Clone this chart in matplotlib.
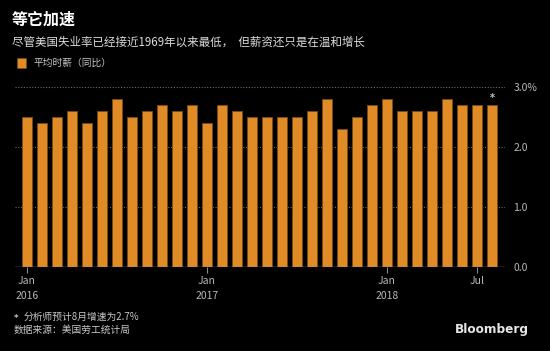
import matplotlib
matplotlib.use("Agg")
import matplotlib.pyplot as plt
from matplotlib.patches import Rectangle

plt.rcParams['font.family'] = ['Noto Sans CJK SC', 'DejaVu Sans']

# Data: average hourly earnings YoY %, Jan 2016 - Aug 2018
months = ["2016-01", "2016-02", "2016-03", "2016-04", "2016-05", "2016-06",
          "2016-07", "2016-08", "2016-09", "2016-10", "2016-11", "2016-12",
          "2017-01", "2017-02", "2017-03", "2017-04", "2017-05", "2017-06",
          "2017-07", "2017-08", "2017-09", "2017-10", "2017-11", "2017-12",
          "2018-01", "2018-02", "2018-03", "2018-04", "2018-05", "2018-06",
          "2018-07", "2018-08"]
values = [2.5, 2.4, 2.5, 2.6, 2.4, 2.6, 2.8, 2.5, 2.6, 2.7, 2.6, 2.7,
          2.4, 2.7, 2.6, 2.5, 2.5, 2.5, 2.5, 2.6, 2.8, 2.3, 2.5, 2.7,
          2.8, 2.6, 2.6, 2.6, 2.8, 2.7, 2.7, 2.7]
xtick_months = ["2016-01", "2017-01", "2018-01", "2018-07"]
xtick_labels = ["Jan\n2016", "Jan\n2017", "Jan\n2018", "Jul"]
yticks = [0.0, 1.0, 2.0, 3.0]
ytick_labels = ["0.0", "1.0", "2.0", "3.0%"]
forecast_month = "2018-08"

BG = "#000000"
BAR = "#E08B26"
EDGE = "#7A4A12"
GRID = "#6a6a6a"
TXT = "#b8b8b8"

W, H = 550, 351
fig = plt.figure(figsize=(W / 100, H / 100), dpi=100, facecolor=BG)

left, right = 15, 505
bottom_px, top_px = 266.7, 83.7
ax = fig.add_axes([left / W, (H - bottom_px) / H, (right - left) / W, (bottom_px - top_px) / H])
ax.set_facecolor(BG)

x = list(range(len(values)))
ax.bar(x, values, width=0.68, color=BAR, edgecolor=EDGE, linewidth=0.7, zorder=3)

ax.set_xlim(-0.8, len(values) - 1 + 0.87)
ax.set_ylim(0, 3.05)

for y in yticks[1:]:
    ax.axhline(y, color=GRID, linestyle=(0, (1, 1.5)), linewidth=0.8, zorder=1)
ax.axhline(0, color="#8a8a8a", linewidth=1.0, zorder=4)

for s in ax.spines.values():
    s.set_visible(False)

ax.yaxis.tick_right()
ax.set_yticks(yticks)
ax.set_yticklabels(ytick_labels)
ax.tick_params(axis='y', length=0, pad=6, labelsize=7.5, labelcolor=TXT)

ax.set_xticks([months.index(m) for m in xtick_months])
ax.set_xticklabels(xtick_labels, linespacing=1.55)
ax.tick_params(axis='x', length=4, width=0.8, color="#8a8a8a", pad=3,
               labelsize=7.5, labelcolor=TXT)

# forecast asterisk
fi = months.index(forecast_month)
ax.annotate("*", xy=(fi, values[fi]), xytext=(0, 1.5), textcoords="offset points",
            ha="center", va="bottom", color="#c8c8c8", fontsize=7, family="DejaVu Sans",
            fontweight="bold", zorder=5)

# Titles
fig.text(12 / W, 1 - 20 / H, "等它加速", color="white", fontsize=11.5,
         fontweight="bold", va="center", ha="left")
fig.text(12 / W, 1 - 42 / H, "尽管美国失业率已经接近1969年以来最低，  但薪资还只是在温和增长",
         color="#dcdcdc", fontsize=8.3, va="center", ha="left")

# Legend
fig.patches.append(Rectangle((16.7 / W, 1 - 68 / H), 9.5 / W, 10 / H,
                             transform=fig.transFigure, facecolor=BAR,
                             edgecolor=EDGE, linewidth=0.5))
fig.text(33 / W, 1 - 63 / H, "平均时薪（同比）", color="#c8c8c8", fontsize=7,
         va="center", ha="left")

# Footnotes
fig.text(14 / W, 1 - 319 / H, "*", color="#c8c8c8", fontsize=6,
         va="center", ha="left", family="DejaVu Sans", fontweight="bold")
fig.text(24 / W, 1 - 317 / H, "分析师预计8月增速为2.7%", color="#c8c8c8",
         fontsize=7, va="center", ha="left")
fig.text(14 / W, 1 - 330 / H, "数据来源：美国劳工统计局", color="#c8c8c8",
         fontsize=7, va="center", ha="left")
fig.text(529 / W, 1 - 330 / H, "Bloomberg", color="#e6e6e6", fontsize=8.7,
         fontweight="bold", va="center", ha="right", family="DejaVu Sans")

fig.savefig("out.png", dpi=100, facecolor=BG)
